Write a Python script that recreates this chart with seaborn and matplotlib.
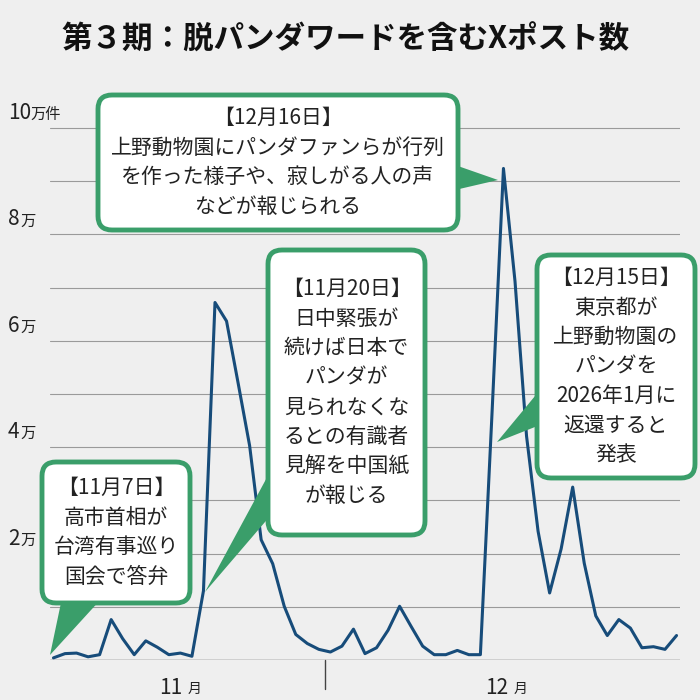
import matplotlib.pyplot as plt
import seaborn as sns
import pandas as pd
from matplotlib.patches import FancyBboxPatch, Polygon

# daily counts (万件), 11/7 .. 12/31
values = [0.04, 0.12, 0.13, 0.06, 0.10, 0.76, 0.40, 0.10, 0.36, 0.24, 0.10, 0.13, 0.07, 1.30,
          6.72, 6.37, 5.21, 4.03, 2.26, 1.81, 1.01, 0.48, 0.31, 0.20, 0.15, 0.26, 0.58, 0.12,
          0.23, 0.56, 1.01, 0.63, 0.26, 0.10, 0.10, 0.18, 0.10, 0.10, 4.60, 9.24, 7.12, 4.21,
          2.42, 1.26, 2.09, 3.25, 1.82, 0.83, 0.46, 0.76, 0.60, 0.23, 0.25, 0.20, 0.46]
ytick_vals = [2, 4, 6, 8, 10]
ytick_nums = ["2", "4", "6", "8", "10"]
ytick_units = ["万", "万", "万", "万", "万件"]
month_labels = ["11", "12"]
month_pos = [10.8, 39.0]
month_split = 23.5

callouts = [
    (["【11月7日】", "高市首相が", "台湾有事巡り", "国会で答弁"],
     (42, 462, 190, 603), [(62, 598), (102, 598), (50, 655)]),
    (["【11月20日】", "日中緊張が", "続けば日本で", "パンダが", "見られなくな", "るとの有識者", "見解を中国紙", "が報じる"],
     (268, 250, 425, 535), [(271, 470), (271, 515), (205, 592)]),
    (["【12月16日】", "上野動物園にパンダファンらが行列", "を作った様子や、寂しがる人の声", "などが報じられる"],
     (98, 95, 458, 230), [(455, 165), (455, 190), (498, 180)]),
    (["【12月15日】", "東京都が", "上野動物園の", "パンダを", "2026年1月に", "返還すると", "発表"],
     (537, 255, 695, 478), [(540, 390), (540, 425), (497, 442)]),
]

sns.set_style("white")
plt.rcParams['font.family'] = ['Noto Sans CJK JP', 'DejaVu Sans']

BG = "#efefef"
GREEN = "#3a9e6a"
LINE = "#174c7a"
W = H = 700

fig = plt.figure(figsize=(7, 7), dpi=100, facecolor=BG)
ymax = 10.3
top_px = 660 - ymax * 53.2
ax = fig.add_axes([50 / W, 40 / H, 630 / W, (660 - top_px) / H])
ax.set_facecolor(BG)

df = pd.DataFrame({"day": range(len(values)), "count": values})
for g in range(1, 11):
    ax.axhline(g, color="#9a9a9a", lw=0.8, zorder=1)
ax.axhline(0, color="#555555", lw=1, zorder=1)
sns.lineplot(data=df, x="day", y="count", ax=ax, color=LINE, lw=2.2, zorder=3)
ax.set_xlim(-0.3, len(values) - 0.7)
ax.set_ylim(0, ymax)
ax.set_xticks([])
ax.set_yticks([])
ax.set_xlabel("")
ax.set_ylabel("")
for s in ax.spines.values():
    s.set_visible(False)


def px(x, y):
    return x / W, 1 - y / H


# y labels
for v, n, u in zip(ytick_vals, ytick_nums, ytick_units):
    y = 660 - v * 53.2 - 9
    fig.text(*px(8, y), n, fontsize=15, color="#222222", va="baseline", ha="left")
    fig.text(*px(10 + 10 * len(n), y), u, fontsize=11, color="#222222", va="baseline", ha="left")

# x labels
ax.plot([month_split, month_split], [0, -0.55], color="#444444", lw=1, clip_on=False)
for lab, p in zip(month_labels, month_pos):
    ax.annotate(lab, (p, 0), xytext=(-5, -12), textcoords="offset points", fontsize=15,
                ha="center", va="top", color="#222222", annotation_clip=False)
    ax.annotate("月", (p, 0), xytext=(12, -16), textcoords="offset points", fontsize=10,
                ha="center", va="top", color="#222222", annotation_clip=False)

# title
fig.text(*px(345, 40), "第３期：脱パンダワードを含むXポスト数", fontsize=22, fontweight="bold",
         ha="center", va="center", color="#111111")

# callouts
for lines, (x0, y0, x1, y1), tri in callouts:
    poly = Polygon([px(*p) for p in tri], closed=True, transform=fig.transFigure,
                   facecolor=GREEN, edgecolor="none", zorder=5)
    fig.add_artist(poly)
    box = FancyBboxPatch(px(x0, y1), (x1 - x0) / W, (y1 - y0) / H,
                         boxstyle="round,pad=0,rounding_size=0.02", transform=fig.transFigure,
                         facecolor="white", edgecolor=GREEN, lw=3.5, zorder=6)
    fig.add_artist(box)
    n = len(lines)
    cy = (y0 + y1) / 2
    for i, line in enumerate(lines):
        yy = cy + (i - (n - 1) / 2) * 29.5
        fig.text(*px((x0 + x1) / 2, yy), line, fontsize=15, ha="center", va="center",
                 color="#222222", zorder=7)

fig.savefig("out.png", dpi=100, facecolor=BG)
